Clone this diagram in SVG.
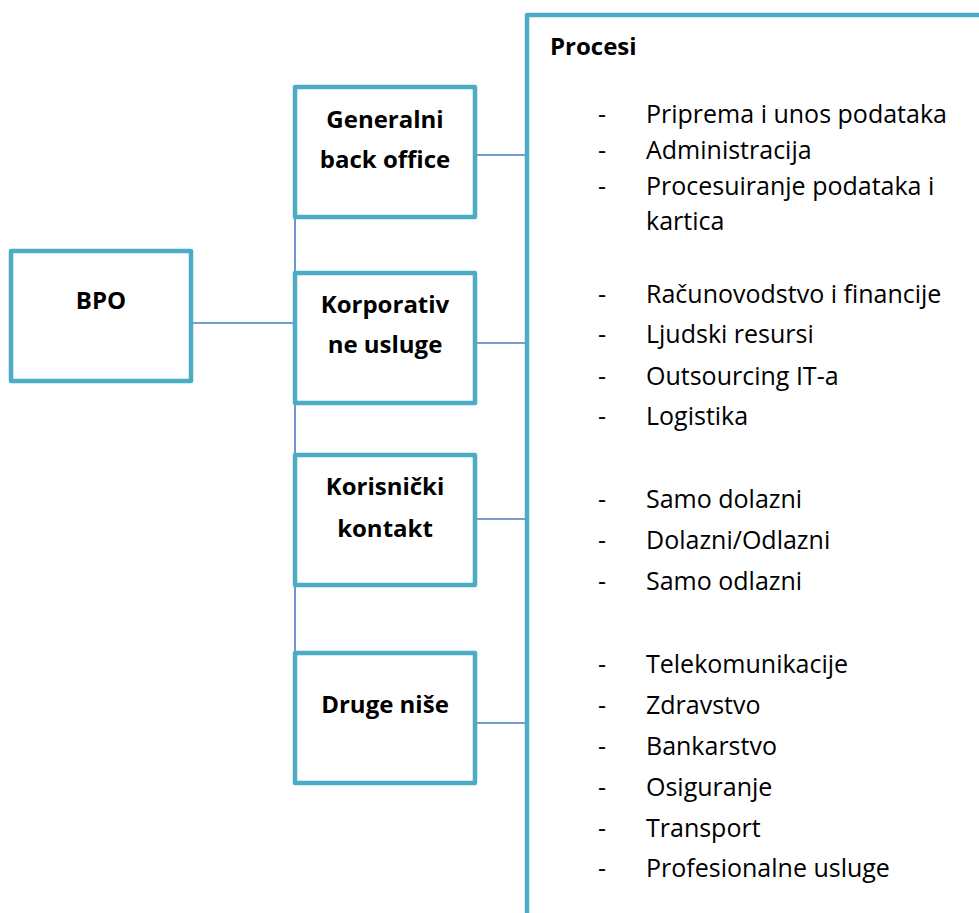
<svg xmlns="http://www.w3.org/2000/svg" width="979" height="913" viewBox="0 0 979 913">
<style>
.box{fill:#ffffff;stroke:#4BACC6;stroke-width:4.5;stroke-linejoin:round}
.conn{stroke:#4A7EC4;stroke-width:1.6;fill:none}
.lbl{font-family:"Open Sans",Lato,sans-serif;font-weight:bold;font-size:24px;fill:#000;text-anchor:middle}
.item{font-family:"Open Sans",Lato,sans-serif;font-size:25px;fill:#000}
.hd{font-family:"Open Sans",Lato,sans-serif;font-weight:bold;font-size:24px;fill:#000}
</style>
<rect width="979" height="913" fill="#ffffff"/>
<g id="connectors">
<line class="conn" x1="191" y1="323" x2="295" y2="323"/>
<line class="conn" x1="295" y1="217" x2="295" y2="662"/>
<line class="conn" x1="475" y1="155" x2="527" y2="155"/>
<line class="conn" x1="475" y1="343" x2="527" y2="343"/>
<line class="conn" x1="475" y1="519" x2="527" y2="519"/>
<line class="conn" x1="475" y1="723" x2="527" y2="723"/>
</g>
<g id="bpo">
<rect class="box" x="11" y="251" width="180" height="130"/>
<text class="lbl" x="101" y="309">BPO</text>
</g>
<g id="generalni">
<rect class="box" x="295" y="87" width="180" height="130"/>
<text class="lbl" x="385" y="128">Generalni</text>
<text class="lbl" x="385" y="168">back office</text>
</g>
<g id="korporativne">
<rect class="box" x="295" y="273" width="180" height="130"/>
<text class="lbl" x="385" y="313">Korporativ</text>
<text class="lbl" x="385" y="353">ne usluge</text>
</g>
<g id="korisnicki">
<rect class="box" x="295" y="455" width="180" height="130"/>
<text class="lbl" x="385" y="495">Korisnički</text>
<text class="lbl" x="385" y="537">kontakt</text>
</g>
<g id="druge">
<rect class="box" x="295" y="653" width="180" height="130"/>
<text class="lbl" x="385" y="713">Druge niše</text>
</g>
<g id="procesi">
<path d="M527,920 L527,15 L990,15" fill="none" stroke="#4BACC6" stroke-width="4.5" stroke-linejoin="round"/>
<text class="hd" x="550" y="55">Procesi</text>
<g class="item">
<text x="598" y="123">-</text><text x="646" y="123">Priprema i unos podataka</text>
<text x="598" y="159">-</text><text x="646" y="159">Administracija</text>
<text x="598" y="195">-</text><text x="646" y="195">Procesuiranje podataka i</text>
<text x="646" y="230">kartica</text>
<text x="598" y="303">-</text><text x="646" y="303">Računovodstvo i financije</text>
<text x="598" y="343">-</text><text x="646" y="343">Ljudski resursi</text>
<text x="598" y="385">-</text><text x="646" y="385">Outsourcing IT-a</text>
<text x="598" y="425">-</text><text x="646" y="425">Logistika</text>
<text x="598" y="508">-</text><text x="646" y="508">Samo dolazni</text>
<text x="598" y="549">-</text><text x="646" y="549">Dolazni/Odlazni</text>
<text x="598" y="590">-</text><text x="646" y="590">Samo odlazni</text>
<text x="598" y="673">-</text><text x="646" y="673">Telekomunikacije</text>
<text x="598" y="714">-</text><text x="646" y="714">Zdravstvo</text>
<text x="598" y="755">-</text><text x="646" y="755">Bankarstvo</text>
<text x="598" y="796">-</text><text x="646" y="796">Osiguranje</text>
<text x="598" y="837">-</text><text x="646" y="837">Transport</text>
<text x="598" y="877">-</text><text x="646" y="877">Profesionalne usluge</text>
</g>
</g>
</svg>
